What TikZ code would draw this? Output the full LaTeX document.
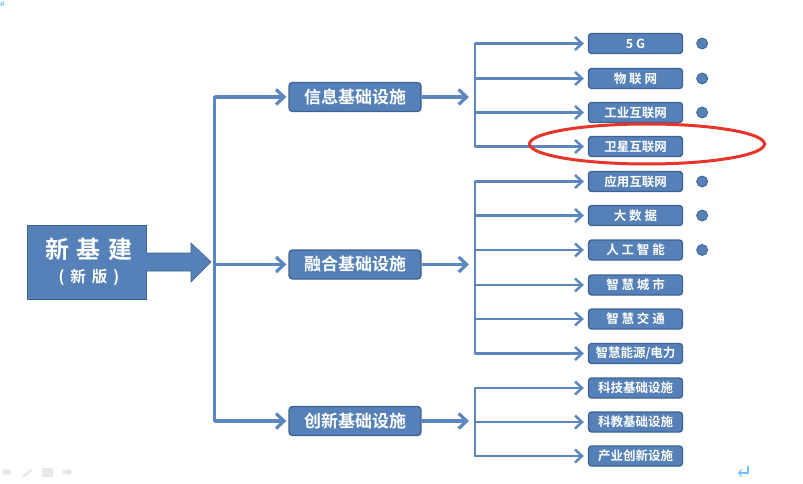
\documentclass[tikz,border=0pt]{standalone}
\usepackage{fontspec}
\setmainfont[BoldFont={Noto Sans CJK SC Bold}]{Noto Sans CJK SC}
\usetikzlibrary{arrows.meta}
\definecolor{bluefill}{HTML}{5580B8}
\definecolor{blueedge}{HTML}{3E6390}
\definecolor{blueline}{HTML}{5B86BE}
\definecolor{ringred}{HTML}{E8352A}
\tikzset{
  rootbox/.style={draw=blueedge,line width=1pt,fill=bluefill,minimum width=119pt,minimum height=74pt,inner sep=0pt,text=white,align=center},
  midbox/.style={draw=blueedge,line width=1.3pt,fill=bluefill,rounded corners=3.5pt,minimum width=132pt,minimum height=29pt,inner sep=0pt,text=white,font=\fontsize{17}{20}\selectfont\bfseries},
  leafbox/.style={draw=blueedge,line width=1.3pt,fill=bluefill,rounded corners=3pt,minimum width=94pt,minimum height=20pt,inner sep=0pt,text=white,font=\fontsize{12.5}{14}\selectfont\bfseries},
  conn/.style={draw=blueline,line width=2.5pt},
  connar/.style={conn,-{Straight Barb[length=7pt,width=13pt,line width=2.5pt]}},
  bigar/.style={draw=blueline,line width=3.2pt,-{Straight Barb[length=8pt,width=15pt,line width=3.2pt]}},
  dotmark/.style={circle,draw=blueedge,line width=.8pt,fill=bluefill,minimum size=11pt,inner sep=0pt},
  faint/.style={fill=black!9,draw=none},
  retarrow/.style={draw=blue!45!cyan!55,line width=1.3pt,-{Straight Barb[length=3pt,width=7pt,line width=1.1pt]}}
}
\begin{document}
\begin{tikzpicture}[x=1pt,y=-1pt]
\useasboundingbox (0,0) rectangle (803,484);
% root
\node[rootbox] (root) at (86.5,262) {\hspace*{5pt}{\fontsize{24}{28}\selectfont\bfseries 新\hspace{8pt}基\hspace{8pt}建}\\[7pt]\hspace*{5pt}{\fontsize{15.5}{20}\selectfont\bfseries (\hspace{6pt}新\hspace{6pt}版\hspace{6pt})}};
\fill[bluefill] (146,253) -- (191,253) -- (191,243) -- (211,262) -- (191,282) -- (191,271) -- (146,271) -- cycle;
\draw[blueedge,line width=.6pt] (root.east |- 0,253) -- (191,253) -- (191,243) -- (211,262) -- (191,282) -- (191,271) -- (root.east |- 0,271);
% level 2
\node[midbox] (m1) at (355,97) {信息基础设施};
\node[midbox] (m2) at (355,264.5) {融合基础设施};
\node[midbox] (m3) at (355,421) {创新基础设施};
\coordinate (t1) at (214.5,97);
\coordinate (t2) at (214.5,264.5);
\coordinate (t3) at (214.5,421);
\draw[conn,line width=3.2pt,line cap=round] (t1) -- (t3);
\foreach \m/\t in {m1/t1,m2/t2,m3/t3} \draw[bigar,shorten >=2pt] (\t) -- (\m.west);
% leaves
\foreach \n/\y/\s in {
 a/43.5/5 G,b/78.5/物 联 网,c/112.5/工业互联网,d/146.5/卫星互联网,
 e/181.5/应用互联网,f/215.5/大 数 据,g/250/人 工 智 能,h/285/智 慧 城 市,i/319/智 慧 交 通,j/353.5/{智慧能源/电力},
 k/388/科技基础设施,l/422/科教基础设施,m/456/产业创新设施}
 {\node[leafbox] (\n) at (635.5,\y) {\s};}
% groups
\coordinate (j1) at (475,97);
\coordinate (j2) at (475,264.5);
\coordinate (j3) at (475,421);
\draw[bigar] (m1.east) -- (469,97);
\draw[bigar] (m2.east) -- (469,264.5);
\draw[bigar] (m3.east) -- (469,421);
\draw[conn,line cap=round] (a.west -| j1) -- (d.west -| j1);
\draw[conn,line cap=round] (e.west -| j2) -- (j.west -| j2);
\draw[conn,line cap=round] (k.west -| j3) -- (m.west -| j3);
\foreach \n/\j in {a/j1,b/j1,c/j1,d/j1,e/j2,f/j2,g/j2,h/j2,i/j2,j/j2,k/j3,l/j3,m/j3}
  \draw[connar,shorten >=4pt] (\n.west -| \j) -- (\n.west);
% dots
\foreach \n/\o in {a/d1,b/d2,c/d3,e/d4,f/d5,g/d6}
  \node[dotmark] (\o) at ([xshift=19pt]\n.east) {};
% ring
\draw[ringred,line width=3pt] (647,144) ellipse [x radius=117.5pt,y radius=20pt];
% slide furniture
\draw[retarrow] (748,466) -- (748,473) -- (738,473);
\draw[blue!40!cyan!50,line width=.8pt,-{Straight Barb[length=2pt,width=5pt]}] (3,1) -- (3,4) -- (0,4);
\fill[faint] (1,472) -- (6,468) -- (6,470) -- (11,470) -- (11,474) -- (6,474) -- (6,476) -- cycle;
\fill[faint] (22,478) -- (24,474) -- (31,469) -- (32,470) -- (26,476) -- cycle;
\fill[faint] (42,468) rectangle (53,477);
\fill[faint] (73,472) -- (68,468) -- (68,470) -- (63,470) -- (63,474) -- (68,474) -- (68,476) -- cycle;
\end{tikzpicture}
\end{document}
